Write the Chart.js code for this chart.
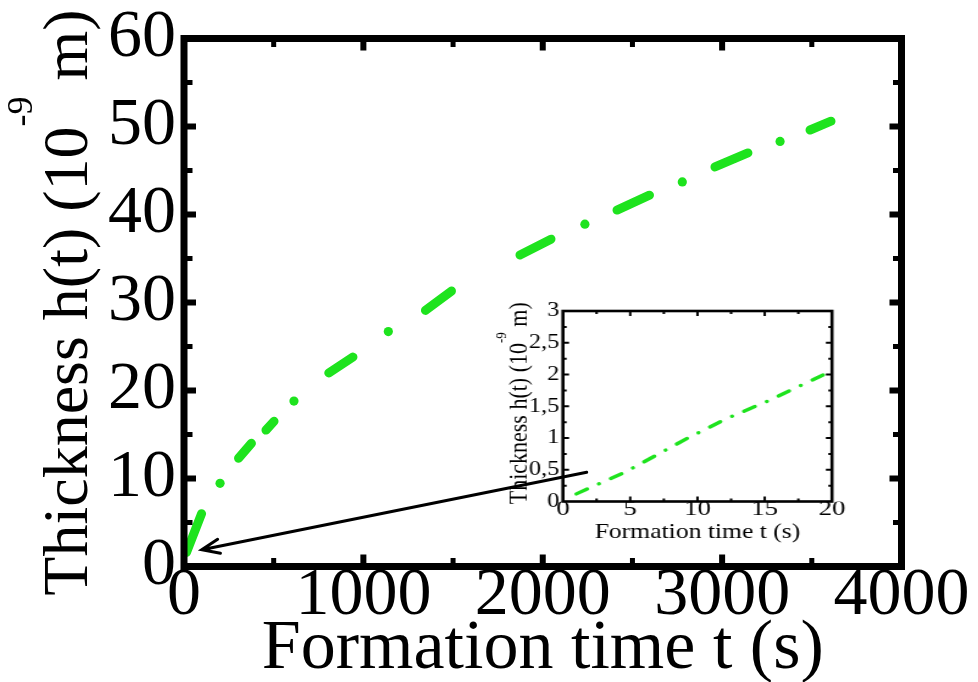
<!DOCTYPE html>
<html>
<head>
<meta charset="utf-8">
<title>Thickness h(t) vs formation time</title>
<script src="https://cdn.jsdelivr.net/npm/chart.js@4.4.1/dist/chart.umd.min.js"></script>
<style>
  html, body { margin: 0; padding: 0; background: #fff; }
  #wrap { position: relative; width: 978px; height: 682px; overflow: hidden; }
  #main { position: absolute; left: 0; top: 0; }
  /* the inset was pasted in slightly stretched sideways */
  #inset { position: absolute; left: 495px; top: 298px; transform: scaleX(1.22); transform-origin: 0 0; }
</style>
</head>
<body>
<div id="wrap">
  <canvas id="main" width="978" height="682"></canvas>
  <canvas id="inset" width="290" height="250"></canvas>
</div>
<script>
// growth curve, long run: ends of each dash (start, end pairs) and the dots between them
const dashTime  = [14, 98, 304, 376, 457, 502, 807, 942, 1346, 1491, 1873, 2046, 2414, 2595, 2960, 3144, 3490, 3607];
const dashThick = [1.6, 6.0, 12.3, 14.0, 15.5, 16.5, 22.0, 23.8, 29.1, 31.3, 35.4, 37.2, 40.5, 42.2, 45.4, 47.0, 49.6, 50.6];
const dotTime   = [201, 613, 1139, 2235, 2778, 3323];
const dotThick  = [9.45, 18.8, 26.7, 38.9, 43.7, 48.3];

// first 20 s (inset)
const insetTime  = [1.0, 2.8, 4.6, 9.2, 12.2, 15.1, 19.6];
const insetThick = [0.12, 0.29, 0.46, 0.99, 1.31, 1.57, 2.02];

// axis ticks
const mainXTicks = [0, 1000, 2000, 3000, 4000];
const mainYTicks = [0, 10, 20, 30, 40, 50, 60];
const insetXTicks = [0, 5, 10, 15, 20];
const insetYTicks = [0, 0.5, 1, 1.5, 2, 2.5, 3];

const GREEN = '#1ee31e';
const SERIF = '"Liberation Serif", "DejaVu Serif", serif';

const pts = (xs, ys) => xs.map((x, i) => ({ x, y: ys[i] }));

// black frame with inward ticks on all four sides
function frameTicks(o) {
  return {
    id: 'frameTicks',
    afterDatasetsDraw(chart) {
      const { ctx, chartArea: a, scales: { x, y } } = chart;
      ctx.save();
      ctx.strokeStyle = '#000';
      ctx.lineCap = 'butt';
      const xt = (v, len, w) => {
        const p = x.getPixelForValue(v);
        ctx.lineWidth = w;
        ctx.beginPath();
        ctx.moveTo(p, a.bottom); ctx.lineTo(p, a.bottom - len);
        ctx.moveTo(p, a.top); ctx.lineTo(p, a.top + len);
        ctx.stroke();
      };
      const yt = (v, len, w) => {
        const p = y.getPixelForValue(v);
        ctx.lineWidth = w;
        ctx.beginPath();
        ctx.moveTo(a.left, p); ctx.lineTo(a.left + len, p);
        ctx.moveTo(a.right, p); ctx.lineTo(a.right - len, p);
        ctx.stroke();
      };
      for (let v = x.min + o.xMinor; v < x.max - 1e-9; v += o.xMinor) {
        const major = Math.abs(v / o.xMajor - Math.round(v / o.xMajor)) < 1e-6;
        xt(v, major ? o.majorLen : o.minorLen, major ? o.majorW : o.minorW);
      }
      for (let v = y.min + o.yMinor; v < y.max - 1e-9; v += o.yMinor) {
        const major = Math.abs(v / o.yMajor - Math.round(v / o.yMajor)) < 1e-6;
        yt(v, major ? o.majorLen : o.minorLen, major ? o.majorW : o.minorW);
      }
      ctx.lineWidth = o.frame;
      ctx.strokeRect(a.left, a.top, a.right - a.left, a.bottom - a.top);
      ctx.restore();
    }
  };
}

// rotated y title with a raised exponent: "Thickness h(t) (10^-9 m)"
function drawYTitle(ctx, bx, cy, size, supSize, rise) {
  const parts = [
    { t: 'Thickness h(t) (10', s: size, r: 0 },
    { t: '-9', s: supSize, r: rise },
    { t: ' m)', s: size, r: 0 }
  ];
  ctx.save();
  ctx.translate(bx, cy);
  ctx.rotate(-Math.PI / 2);
  ctx.fillStyle = '#000';
  ctx.textBaseline = 'alphabetic';
  ctx.textAlign = 'left';
  let total = 0;
  parts.forEach(p => { ctx.font = p.s + 'px ' + SERIF; p.w = ctx.measureText(p.t).width; total += p.w; });
  let x = -total / 2;
  parts.forEach(p => { ctx.font = p.s + 'px ' + SERIF; ctx.fillText(p.t, x, -p.r); x += p.w; });
  ctx.restore();
}

function drawXTitle(ctx, cx, by, size) {
  ctx.save();
  ctx.fillStyle = '#000';
  ctx.font = size + 'px ' + SERIF;
  ctx.textAlign = 'center';
  ctx.textBaseline = 'alphabetic';
  ctx.fillText('Formation time t (s)', cx, by);
  ctx.restore();
}

// arrow from the inset down to the origin of the long run
const arrowTail = { x: 2245, y: 10.7 };
const arrowTip = { x: 99, y: 1.9 };

const mainDecor = {
  id: 'mainDecor',
  afterDraw(chart) {
    const { ctx, chartArea: a, scales: { x, y } } = chart;
    drawYTitle(ctx, 87, (a.top + a.bottom) / 2, 64, 36, 55);
    drawXTitle(ctx, (a.left + a.right) / 2, 668, 70);

    const x0 = x.getPixelForValue(arrowTail.x), y0 = y.getPixelForValue(arrowTail.y);
    const x1 = x.getPixelForValue(arrowTip.x), y1 = y.getPixelForValue(arrowTip.y);
    const ang = Math.atan2(y0 - y1, x0 - x1);
    const head = 19, spread = 22 * Math.PI / 180;
    ctx.save();
    ctx.strokeStyle = '#000';
    ctx.lineWidth = 3;
    ctx.lineCap = 'round';
    ctx.beginPath();
    ctx.moveTo(x0, y0); ctx.lineTo(x1, y1);
    ctx.moveTo(x1 + head * Math.cos(ang - spread), y1 + head * Math.sin(ang - spread));
    ctx.lineTo(x1, y1);
    ctx.lineTo(x1 + head * Math.cos(ang + spread), y1 + head * Math.sin(ang + spread));
    ctx.stroke();
    ctx.restore();
  }
};

new Chart(document.getElementById('main'), {
  type: 'line',
  data: {
    datasets: [
      {
        data: pts(dashTime, dashThick),
        borderColor: GREEN,
        borderWidth: 9,
        borderCapStyle: 'round',
        pointRadius: 0,
        tension: 0,
        segment: {
          // only every other segment is a dash, the rest are the gaps
          borderColor: c => (c.p0DataIndex % 2 === 0 ? GREEN : 'rgba(0,0,0,0)')
        }
      },
      {
        data: pts(dotTime, dotThick),
        showLine: false,
        pointRadius: 4.6,
        pointBackgroundColor: GREEN,
        pointBorderWidth: 0
      }
    ]
  },
  options: {
    responsive: false,
    devicePixelRatio: 1,
    animation: false,
    layout: { padding: { top: 38.5, right: 76.5, left: 0, bottom: 0 } },
    plugins: { legend: { display: false }, tooltip: { enabled: false } },
    scales: {
      x: {
        type: 'linear', min: 0, max: 4000,
        grid: { display: false, drawTicks: false }, border: { display: false },
        afterBuildTicks: s => { s.ticks = mainXTicks.map(v => ({ value: v })); },
        ticks: {
          autoSkip: false, maxRotation: 0, padding: -4, color: '#000',
          font: { family: SERIF, size: 68, lineHeight: 1 },
          callback: v => String(v)
        },
        afterFit: s => { s.height = 115.5; }
      },
      y: {
        type: 'linear', min: 0, max: 60,
        grid: { display: false, drawTicks: false }, border: { display: false },
        afterBuildTicks: s => { s.ticks = mainYTicks.map(v => ({ value: v })); },
        ticks: { padding: 8, color: '#000', font: { family: SERIF, size: 68, lineHeight: 0.8 } },
        afterFit: s => { s.width = 184; }
      }
    }
  },
  plugins: [frameTicks({ xMinor: 500, xMajor: 1000, yMinor: 5, yMajor: 10, majorLen: 12, minorLen: 8.5, majorW: 6, minorW: 5, frame: 7 }), mainDecor]
});

const insetDecor = {
  id: 'insetDecor',
  afterDraw(chart) {
    const { ctx, chartArea: a } = chart;
    drawYTitle(ctx, 25.5, (a.top + a.bottom) / 2 - 3, 22, 13, 17);
    drawXTitle(ctx, (a.left + a.right) / 2, 240, 21);
  }
};

new Chart(document.getElementById('inset'), {
  type: 'line',
  data: {
    datasets: [{
      data: pts(insetTime, insetThick),
      borderColor: GREEN,
      borderWidth: 3.4,
      borderCapStyle: 'round',
      borderDash: [10, 11, 0.1, 11],
      pointRadius: 0,
      tension: 0
    }]
  },
  options: {
    responsive: false,
    devicePixelRatio: 1,
    animation: false,
    layout: { padding: { top: 13, right: 13.8, left: 0, bottom: 0 } },
    plugins: { legend: { display: false }, tooltip: { enabled: false } },
    scales: {
      x: {
        type: 'linear', min: 0, max: 20,
        grid: { display: false, drawTicks: false }, border: { display: false },
        afterBuildTicks: s => { s.ticks = insetXTicks.map(v => ({ value: v })); },
        ticks: { autoSkip: false, maxRotation: 0, padding: -3, color: '#000', font: { family: SERIF, size: 22, lineHeight: 1 } },
        afterFit: s => { s.height = 46.5; }
      },
      y: {
        type: 'linear', min: 0, max: 3,
        grid: { display: false, drawTicks: false }, border: { display: false },
        afterBuildTicks: s => { s.ticks = insetYTicks.map(v => ({ value: v })); },
        ticks: {
          padding: 3, color: '#000', font: { family: SERIF, size: 20, lineHeight: 0.8 },
          callback: v => String(v).replace('.', ',')
        },
        afterFit: s => { s.width = 55.7; }
      }
    }
  },
  plugins: [frameTicks({ xMinor: 2.5, xMajor: 5, yMinor: 0.25, yMajor: 0.5, majorLen: 5, minorLen: 3, majorW: 2, minorW: 2, frame: 2.6 }), insetDecor]
});
</script>
</body>
</html>
